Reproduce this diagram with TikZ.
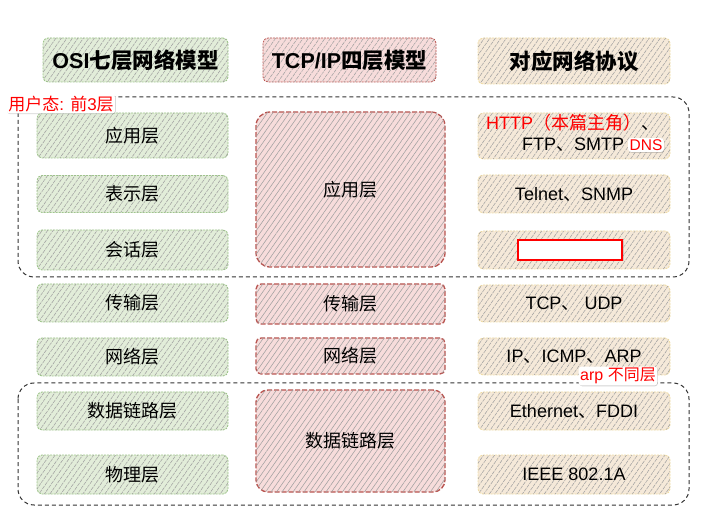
\documentclass[tikz,border=0pt]{standalone}
\usepackage{fontspec}
\setmainfont{Liberation Sans}
\newfontfamily\cjk{Noto Sans CJK SC}
\usetikzlibrary{patterns.meta,shadows}
\definecolor{gfill}{HTML}{E2EDD9}
\definecolor{gline}{HTML}{9FC58C}
\definecolor{rfill}{HTML}{F7DCDB}
\definecolor{rline}{HTML}{B85450}
\definecolor{ofill}{HTML}{F5E9D9}
\definecolor{oline}{HTML}{F0DDA6}
\definecolor{hatch}{HTML}{A0A0A0}
\newcommand{\zh}[1]{{\cjk #1}}
\tikzset{
  layer/.style={rounded corners=5pt, inner sep=0pt, font=\fontsize{18}{20}\selectfont,
    postaction={pattern={Lines[angle=55,distance=4.5pt,line width=0.55pt]}, pattern color=hatch}},
  osi/.style={layer, fill=gfill, draw=gline, line width=0.9pt, dash pattern=on 2pt off 1pt, minimum width=191pt},
  tcp/.style={layer, fill=rfill, draw=rline, line width=1.3pt, dash pattern=on 5pt off 2pt, minimum width=189pt},
  proto/.style={layer, fill=ofill, draw=oline, line width=0.9pt, dash pattern=on 2pt off 1pt, minimum width=192pt},
  head/.style={font=\fontsize{21.5}{24}\selectfont\bfseries},
  region/.style={draw=black!80, line width=1pt, dash pattern=on 4pt off 3pt, rounded corners=16pt},
  tag/.style={fill=white, text=red, rounded corners=3pt, inner sep=1.5pt,
    drop shadow={shadow xshift=0.6pt, shadow yshift=-0.8pt, opacity=0.35}},
  txt/.style={font=\fontsize{18}{20}\selectfont, inner sep=0pt}
}
\begin{document}
\begin{tikzpicture}[x=1pt,y=-1pt]
\useasboundingbox (0,0) rectangle (704,526);
% containers
\draw[region] (18,97) rectangle (689,277);
\draw[region] (18,383) rectangle (689,505);
% headers
\node[osi, minimum width=185pt, minimum height=44pt, head] (hosi) at (135.5,60) {OSI\zh{七层网络模型}};
\node[tcp, line width=0.8pt, dash pattern=on 2pt off 1pt, minimum width=173pt, minimum height=44pt, head] (htcp) at (349.5,60) {TCP/IP\zh{四层模型}};
\node[proto, minimum height=46pt, head] (hproto) at (574,61) {\zh{对应网络协议}};
% OSI column
\node[osi, minimum height=45pt] (app) at (132.5,135.5) {\zh{应用层}};
\node[osi, minimum height=37pt] (pres) at (132.5,194) {\zh{表示层}};
\node[osi, minimum height=40pt] (sess) at (132.5,250) {\zh{会话层}};
\node[osi, minimum height=38pt] (trans) at (132.5,303) {\zh{传输层}};
\node[osi, minimum height=38pt] (net) at (132.5,357) {\zh{网络层}};
\node[osi, minimum height=38pt] (dl) at (132.5,411) {\zh{数据链路层}};
\node[osi, minimum height=39pt] (phy) at (132.5,474.5) {\zh{物理层}};
% TCP/IP column
\node[tcp, minimum height=155pt, rounded corners=14pt] (mapp) at (350.5,189.5) {\zh{应用层}};
\node[tcp, minimum height=40pt] (mtrans) at (350.5,304) {\zh{传输层}};
\node[tcp, minimum height=36pt] (mnet) at (350.5,356) {\zh{网络层}};
\node[tcp, minimum height=102pt, rounded corners=12pt] (mdl) at (350.5,441) {\zh{数据链路层}};
% protocol column
\node[proto, minimum height=46pt] (http) at (574,136) {};
\node[txt, anchor=west] (http1) at (486,123) {\textcolor{red}{HTTP\zh{（本篇主角）}}\zh{、}};
\node[txt, anchor=west] (http2) at (522,145) {FTP\zh{、}SMTP};
\node[tag, font=\fontsize{15.5}{17}\selectfont] (dns) at (646,145) {DNS};
\node[proto, minimum height=38pt] (telnet) at (574,194) {Telnet\zh{、}SNMP};
\node[proto, minimum height=38pt] (third) at (574,250) {};
\node[fill=white, draw=red, line width=2pt, minimum width=104pt, minimum height=20pt, inner sep=0pt, drop shadow={shadow xshift=1.5pt, shadow yshift=-1.5pt, opacity=0.3}] (mask) at (570,250) {};
\node[proto, minimum height=37pt] (tcpudp) at (574,303.5) {TCP\zh{、} UDP};
\node[proto, minimum height=37pt] (ip) at (574,356.5) {IP\zh{、}ICMP\zh{、}ARP};
\node[proto, minimum height=38pt] (eth) at (574,411) {Ethernet\zh{、}FDDI};
\node[proto, minimum height=39pt] (ieee) at (574,474.5) {IEEE 802.1A};
% tags
\node[tag, font=\fontsize{17}{19}\selectfont] (user) at (61,104) {\zh{用户态}: \zh{前}3\zh{层}};
\node[tag, font=\fontsize{16}{18}\selectfont] (arp) at (618,376) {arp \zh{不同层}};
\end{tikzpicture}
\end{document}
